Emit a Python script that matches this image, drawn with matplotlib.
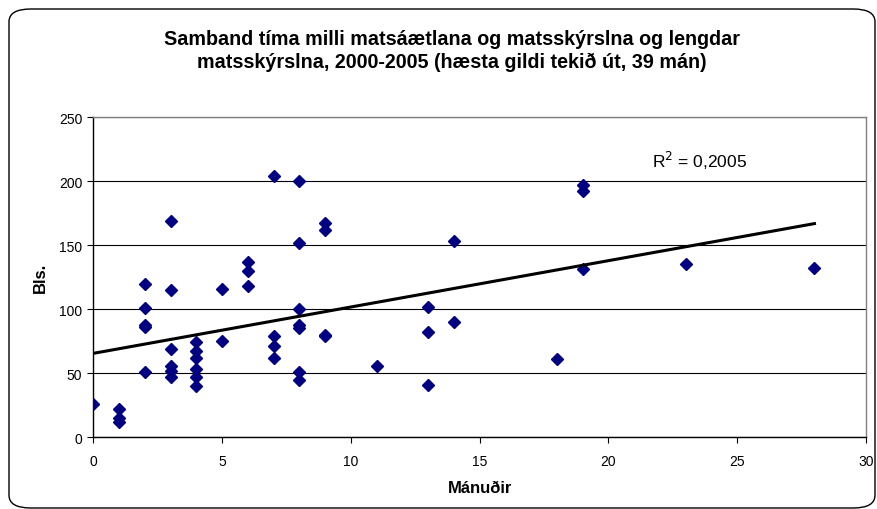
import matplotlib
matplotlib.use("Agg")
import matplotlib.pyplot as plt
from matplotlib.patches import FancyBboxPatch
import numpy as np

plt.rcParams["font.family"] = ["Liberation Sans", "DejaVu Sans"]

# months between plan and report (x), report length in pages (y)
months = [0,
          1, 1, 1,
          2, 2, 2, 2, 2,
          3, 3, 3, 3, 3, 3,
          4, 4, 4, 4, 4, 4,
          5, 5,
          6, 6, 6,
          7, 7, 7, 7,
          8, 8, 8, 8, 8, 8, 8,
          9, 9, 9, 9,
          11,
          13, 13, 13,
          14, 14,
          18,
          19, 19, 19,
          23,
          28]
pages = [26,
         22, 15, 12,
         120, 101, 88, 86, 51,
         169, 115, 69, 56, 52, 47,
         74, 67, 62, 53, 47, 40,
         116, 75,
         137, 130, 118,
         204, 79, 71, 62,
         200, 152, 100, 88, 85, 51, 45,
         167, 162, 80, 79,
         56,
         102, 82, 41,
         153, 90,
         61,
         197, 192, 131,
         135,
         132]
r2_text = "R$^2$ = 0,2005"

x = np.array(months, dtype=float)
y = np.array(pages, dtype=float)
slope, intercept = np.polyfit(x, y, 1)

fig = plt.figure(figsize=(8.77, 5.10), dpi=100)
frame = FancyBboxPatch((9 / 877, 1 / 510), 866 / 877, 499 / 510,
                       boxstyle="round,pad=0,rounding_size=0.025",
                       transform=fig.transFigure, facecolor="white",
                       edgecolor="black", lw=1.0, zorder=-1)
fig.patches.append(frame)
ax = fig.add_axes([0.1064, 0.1406, 0.881, 0.628])
ax.set_facecolor("white")

ax.set_xlim(0, 30)
ax.set_ylim(0, 250)
ax.set_xticks(np.arange(0, 31, 5))
ax.set_yticks(np.arange(0, 251, 50))
ax.yaxis.grid(True, color="black", lw=0.8)
ax.set_axisbelow(True)
for s in ["top", "right"]:
    ax.spines[s].set_color("#808080")
    ax.spines[s].set_linewidth(1.0)
for s in ["left", "bottom"]:
    ax.spines[s].set_color("black")
    ax.spines[s].set_linewidth(1.0)
ax.tick_params(direction="out", length=4, width=0.8, labelsize=10)
ax.tick_params(axis="x", pad=8)
ax.tick_params(axis="y", pad=4)

ax.plot(x, y, "D", color="#000080", markersize=6, zorder=3)
xl = np.array([0, x.max()])
ax.plot(xl, intercept + slope * xl, color="black", lw=2.2, zorder=4)
ax.text(21.7, 211, r2_text, fontsize=12.5)

ax.set_xlabel("Mánuðir", fontsize=12, fontweight="bold", labelpad=9)
ax.set_ylabel("Bls.", fontsize=12, fontweight="bold", labelpad=8)
fig.text(0.515, 0.942,
         "Samband tíma milli matsáætlana og matsskýrslna og lengdar\n"
         "matsskýrslna, 2000-2005 (hæsta gildi tekið út, 39 mán)",
         ha="center", va="top", fontsize=14.2, fontweight="bold",
         linespacing=1.25)

fig.savefig("out.png", dpi=100, facecolor="white")
